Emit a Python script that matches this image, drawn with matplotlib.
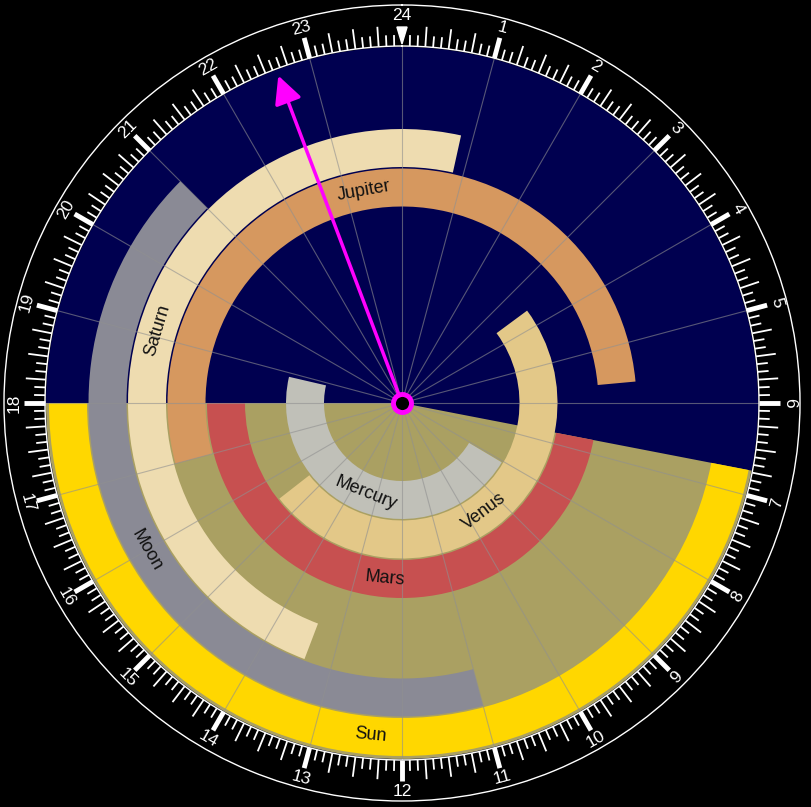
import numpy as np
import matplotlib.pyplot as plt

plt.rcParams['font.family'] = ['Liberation Sans', 'DejaVu Sans']

# bodies from innermost ring outwards, visibility arcs in hours (clockwise start -> end)
bodies = ['Mercury', 'Venus', 'Mars', 'Jupiter', 'Saturn', 'Moon', 'Sun']
rise_h = [8.05, 3.57, 6.73, 17.0, 13.39, 11.0, 6.73]
set_h = [18.87, 15.47, 18.0, 5.65, 0.83, 21.0, 18.0]
colors = ['#c0c0b8', '#e3c888', '#c75050', '#d6985f', '#eedcb0', '#8a8a95', '#ffd700']

sunrise, sunset = 6.73, 18.0
now_h = 22.62
hour_labels = [str(h) for h in range(1, 25)]


def ang(h):
    return np.deg2rad(h * 15.0)


fig = plt.figure(figsize=(8.12, 8.07), dpi=100, facecolor='black')
ax = fig.add_axes([4 / 812, 6 / 807, 796 / 812, 796 / 807], projection='polar')
ax.set_theta_zero_location('N')
ax.set_theta_direction(-1)
ax.set_ylim(0, 398)
ax.set_facecolor('black')
ax.set_xticks([])
ax.set_yticks([])
ax.grid(False)
ax.spines['polar'].set_color('white')
ax.spines['polar'].set_linewidth(1)

disc_r = 356

# night sky disc and daylight wedge
ax.bar(0, disc_r, width=2 * np.pi, bottom=0, color='#000050', edgecolor='none', zorder=1)
ax.bar(ang(sunrise), disc_r, width=ang(sunset - sunrise), bottom=0, align='edge',
       color='#aaa062', edgecolor='none', zorder=1.5)

# visibility rings
ring_w = 38
for i, (name, r0, s0, c) in enumerate(zip(bodies, rise_h, set_h, colors)):
    inner = 78 + i * 39.5
    span = (s0 - r0) % 24
    ax.bar(ang(r0), ring_w, width=ang(span), bottom=inner, align='edge',
           color=c, edgecolor='none', zorder=2)
    mid = (r0 + span / 2) % 24
    if 6 < mid < 18:
        rot = 180 - mid * 15
    else:
        rot = -mid * 15
    ax.text(ang(mid), inner + ring_w / 2, name, rotation=rot, rotation_mode='anchor',
            ha='center', va='center', fontsize=13, color='#111111', zorder=4)

# hour grid lines
for h in range(24):
    ax.plot([ang(h), ang(h)], [0, disc_r], color='#909090', lw=0.8, alpha=0.6, zorder=3)

# clock dial
ax.plot(np.linspace(0, 2 * np.pi, 400), np.full(400, disc_r + 1), color='white', lw=1, zorder=3)
steps = np.arange(288)
minor = [ang(k / 12) for k in steps if k % 3 != 0]
quarter = [ang(k / 12) for k in steps if k % 3 == 0 and k % 12 != 0]
major = [ang(k / 12) for k in steps if k % 12 == 0 and k != 0]
ax.vlines(minor, 357, 368, color='white', lw=1.3, zorder=3)
ax.vlines(quarter, 357, 377, color='white', lw=1.3, zorder=3)
ax.vlines(major, 357, 378, color='white', lw=3.5, zorder=3)
ax.fill([-0.0135, 0.0135, 0], [376, 376, 359], color='white', zorder=3)

for h, lab in zip(range(1, 25), hour_labels):
    if 6 < h < 18:
        rot = 180 - h * 15
    else:
        rot = -h * 15
    ax.text(ang(h), 388, lab, rotation=rot, rotation_mode='anchor',
            ha='center', va='center', fontsize=12.5, color='white', zorder=4)

# current time pointer
ax.annotate('', xy=(ang(now_h), 350), xytext=(0, 0),
            arrowprops=dict(arrowstyle='-|>', color='#ff00ff', lw=2.5,
                            mutation_scale=42, shrinkA=0, shrinkB=0), zorder=5)
ax.plot(0, 0, 'o', ms=13, mfc='black', mec='#ff00ff', mew=3.5, zorder=6)

fig.savefig('out.png', dpi=100, facecolor='black')
